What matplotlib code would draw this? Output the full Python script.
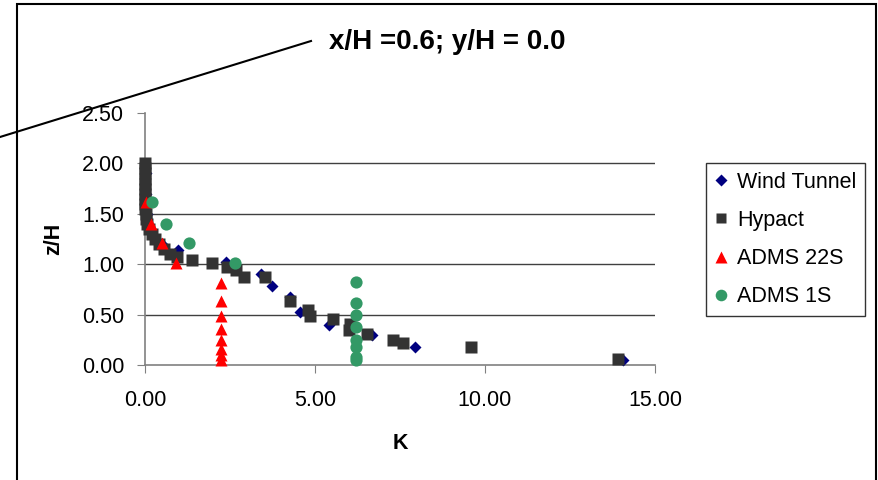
import matplotlib.pyplot as plt
from matplotlib.lines import Line2D
from matplotlib.patches import Rectangle

plt.rcParams['font.family'] = ['Liberation Sans', 'DejaVu Sans']

# Wind tunnel measurements
wt_k = [0.02, 0.03, 0.05, 0.2, 0.5, 0.98, 2.37, 3.40, 3.75, 4.26, 4.56, 5.40, 6.67, 7.94, 14.07]
wt_z = [1.90, 1.70, 1.50, 1.30, 1.20, 1.14, 1.02, 0.90, 0.78, 0.67, 0.53, 0.40, 0.30, 0.18, 0.05]

# Hypact
hy_k = [0.0, 0.0, 0.0, 0.0, 0.0, 0.0, 0.0, 0.0, 0.0, 0.0, 0.02, 0.04, 0.07, 0.12,
        0.2, 0.3, 0.42, 0.57, 0.75, 0.95, 1.37, 1.96, 2.40, 2.68, 2.90, 3.53,
        4.26, 4.78, 4.86, 5.53, 6.02, 6.00, 6.52, 7.30, 7.58, 9.58, 13.92]
hy_z = [2.00, 1.95, 1.90, 1.85, 1.80, 1.75, 1.70, 1.65, 1.60, 1.55, 1.50, 1.45, 1.40, 1.35,
        1.30, 1.25, 1.20, 1.15, 1.10, 1.07, 1.04, 1.01, 0.975, 0.94, 0.876, 0.876,
        0.63, 0.55, 0.49, 0.46, 0.41, 0.35, 0.31, 0.25, 0.215, 0.18, 0.056]

# ADMS 22S
a22_k = [0.03, 0.17, 0.49, 0.91, 2.23, 2.23, 2.23, 2.23, 2.23, 2.23, 2.23, 2.23]
a22_z = [1.62, 1.40, 1.21, 1.01, 0.81, 0.63, 0.49, 0.36, 0.25, 0.16, 0.10, 0.05]

# ADMS 1S
a1_k = [0.2, 0.61, 1.3, 2.64, 6.22, 6.22, 6.22, 6.22, 6.22, 6.22, 6.22, 6.22]
a1_z = [1.62, 1.40, 1.21, 1.01, 0.82, 0.62, 0.50, 0.38, 0.25, 0.18, 0.08, 0.05]

x_ticks = [0, 5, 10, 15]
y_ticks = [0.0, 0.5, 1.0, 1.5, 2.0, 2.5]

fig = plt.figure(figsize=(8.79, 4.8), dpi=100)
ax = fig.add_axes([145 / 879, 115 / 480, 510 / 879, 252 / 480])

# Gridlines (none at the very top)
for y in y_ticks[1:-1]:
    ax.axhline(y, color='#404040', lw=1, zorder=1)

ax.plot(wt_k, wt_z, 'D', color='#000080', ms=6, mec='none', label='Wind Tunnel',
        zorder=3, clip_on=False)
ax.plot(hy_k, hy_z, 's', color='#333333', ms=8.2, mec='none', label='Hypact',
        zorder=4, clip_on=False)
ax.plot(a22_k, a22_z, '^', color='#FF0000', ms=9, mec='none', label='ADMS 22S',
        zorder=5, clip_on=False)
ax.plot(a1_k, a1_z, 'o', color='#339966', ms=8.8, mec='none', label='ADMS 1S',
        zorder=6, clip_on=False)

ax.set_xlim(0, 15)
ax.set_ylim(0, 2.5)
ax.set_xticks(x_ticks)
ax.set_yticks(y_ticks)
ax.set_xticklabels(['%.2f' % v for v in x_ticks])
ax.set_yticklabels(['%.2f' % v for v in y_ticks])
ax.tick_params(labelsize=15.5, length=6, color='#808080')
ax.tick_params(axis='x', pad=12)
ax.tick_params(axis='y', pad=9)
for s in ['top', 'right']:
    ax.spines[s].set_visible(False)
for s in ['left', 'bottom']:
    ax.spines[s].set_color('#808080')
    ax.spines[s].set_linewidth(1.2)

ax.set_xlabel('K', fontsize=15.5, fontweight='bold', labelpad=16)
ax.set_ylabel('z/H', fontsize=15.5, fontweight='bold', labelpad=13)

fig.text(329 / 879, 1 - 42 / 480, 'x/H =0.6; y/H = 0.0', fontsize=20,
         fontweight='bold', ha='left', va='center')

# Leader line from the title
fig.add_artist(Line2D([0, 311 / 879], [1 - 137 / 480, 1 - 41 / 480],
                      transform=fig.transFigure, color='black', lw=1.5))

# Chart area border
fig.add_artist(Rectangle((17 / 879, -0.05), (876 - 17) / 879, 1.05 - 4 / 480,
                         transform=fig.transFigure, fill=False, ec='black', lw=1.5))

leg = ax.legend(loc='upper left', bbox_to_anchor=(706 / 879, 1 - 163 / 480),
                bbox_transform=fig.transFigure, borderaxespad=0, fontsize=15.5,
                frameon=True, fancybox=False, edgecolor='black', markerscale=0.95,
                handlelength=0.6, handletextpad=0.45, labelspacing=0.8, borderpad=0.4)
leg.get_frame().set_linewidth(1.0)

fig.savefig('out.png', dpi=100)
